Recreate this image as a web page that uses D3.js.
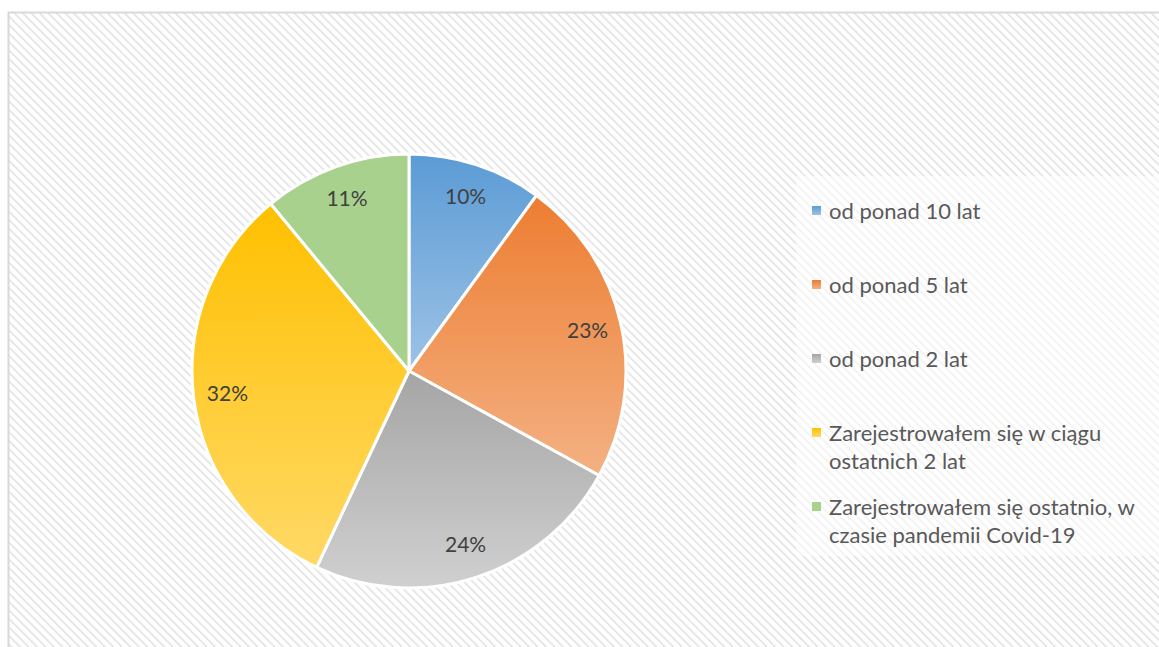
<!DOCTYPE html>
<html lang="pl">
<head>
<meta charset="UTF-8">
<title>Pie</title>
<style>
  body { margin: 0; background: #fff; }
  svg text { font-family: Lato, "Open Sans", sans-serif; }
</style>
</head>
<body>
<svg id="chart" width="1159" height="647"></svg>
<script src="https://d3js.org/d3.v7.min.js"></script>
<script>
// data
var categories = ["od ponad 10 lat", "od ponad 5 lat", "od ponad 2 lat",
                  "Zarejestrowałem się w ciągu ostatnich 2 lat",
                  "Zarejestrowałem się ostatnio, w czasie pandemii Covid-19"];
var values = [10, 23, 24, 32, 11];
var colorsTop = ["#5b9bd5", "#ed7d31", "#a5a5a5", "#ffc000", "#a9d18e"];
var colorsBottom = ["#9dc3e6", "#f4b183", "#d0d0d0", "#ffd966", "#a9d18e"];

var svg = d3.select("#chart");
var defs = svg.append("defs");

// diagonal hatch background
var pat = defs.append("pattern")
    .attr("id", "hatch")
    .attr("patternUnits", "userSpaceOnUse")
    .attr("width", 6).attr("height", 6)
    .attr("patternTransform", "rotate(-45)");
pat.append("rect").attr("width", 6).attr("height", 6).attr("fill", "#fff");
pat.append("line").attr("x1", 0).attr("y1", 0).attr("x2", 0).attr("y2", 6)
    .attr("stroke", "#e0e0e0").attr("stroke-width", 3);

categories.forEach(function(c, i) {
    var g = defs.append("linearGradient").attr("id", "grad" + i)
        .attr("x1", 0).attr("y1", 0).attr("x2", 0).attr("y2", 1);
    g.append("stop").attr("offset", "0%").attr("stop-color", colorsTop[i]);
    g.append("stop").attr("offset", "100%").attr("stop-color", colorsBottom[i]);
});

svg.append("rect")
    .attr("x", 8.5).attr("y", 12.5)
    .attr("width", 1165).attr("height", 650)
    .attr("fill", "url(#hatch)")
    .attr("stroke", "#d9d9d9").attr("stroke-width", 2);

// pie
var cx = 409, cy = 371, radius = 217;
var pie = d3.pie().sort(null).value(function(d) { return d; });
var arcs = pie(values);
var arc = d3.arc().innerRadius(0).outerRadius(radius);
var labelArc = d3.arc().innerRadius(183).outerRadius(183);

var g = svg.append("g").attr("transform", "translate(" + cx + "," + cy + ")");

g.selectAll("path.slice")
    .data(arcs)
    .enter().append("path")
    .attr("class", "slice")
    .attr("d", arc)
    .attr("fill", function(d, i) { return "url(#grad" + i + ")"; })
    .attr("stroke", "#fff")
    .attr("stroke-width", 3)
    .attr("stroke-linejoin", "round");

g.selectAll("text.lbl")
    .data(arcs)
    .enter().append("text")
    .attr("class", "lbl")
    .attr("transform", function(d) { return "translate(" + labelArc.centroid(d) + ")"; })
    .attr("text-anchor", "middle")
    .attr("dy", "0.35em")
    .style("font-size", "21px")
    .style("fill", "#404040")
    .text(function(d) { return d.value + "%"; });

// legend
svg.append("rect")
    .attr("x", 796).attr("y", 176)
    .attr("width", 370).attr("height", 380)
    .attr("fill", "#fff").attr("opacity", 0.5);

var legend = svg.append("g");
var maxW = 320, lineH = 28;

categories.forEach(function(c, i) {
    var baseY = 219 + i * 74;
    legend.append("rect")
        .attr("x", 812).attr("y", baseY - 13)
        .attr("width", 9).attr("height", 9)
        .attr("fill", "url(#grad" + i + ")");

    var t = legend.append("text")
        .attr("x", 829).attr("y", baseY)
        .style("font-size", "22px")
        .style("fill", "#595959");

    // simple word wrap
    var words = c.split(" "), line = [], ln = 0;
    var tspan = t.append("tspan").attr("x", 829).attr("y", baseY);
    words.forEach(function(w) {
        line.push(w);
        tspan.text(line.join(" "));
        if (tspan.node().getComputedTextLength() > maxW && line.length > 1) {
            line.pop();
            tspan.text(line.join(" "));
            line = [w];
            ln++;
            tspan = t.append("tspan").attr("x", 829).attr("y", baseY + ln * lineH).text(w);
        }
    });
});
</script>
</body>
</html>
